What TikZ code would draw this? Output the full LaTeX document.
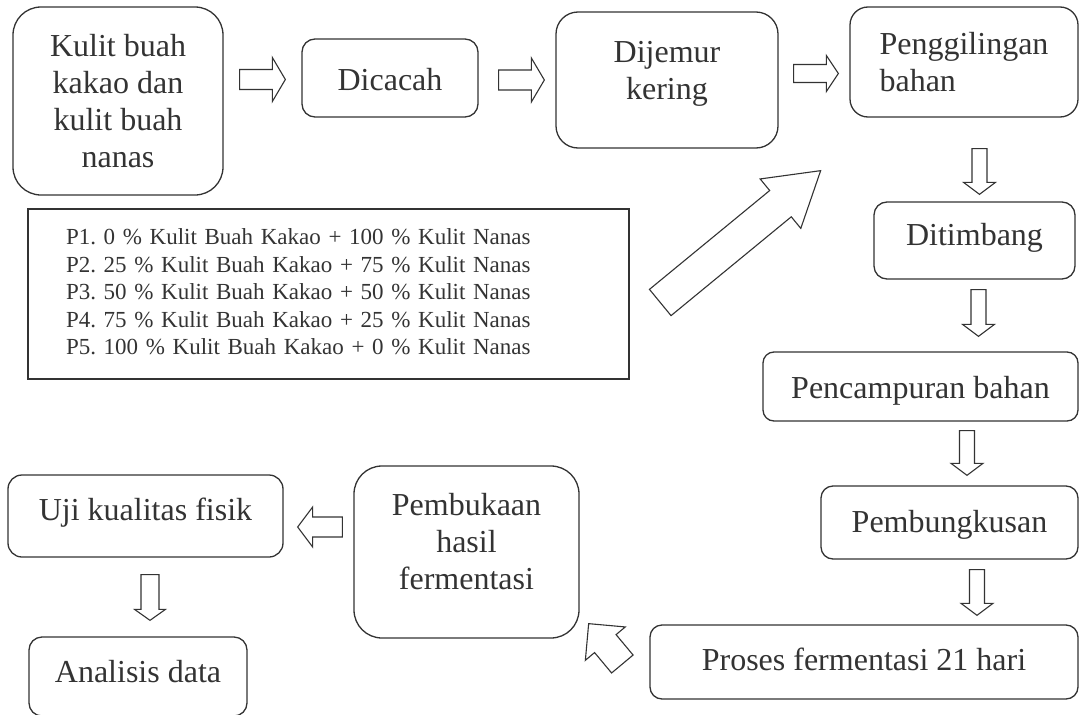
\documentclass[tikz,border=0pt]{standalone}
\usepackage{fontspec}
\setmainfont{Liberation Serif}
\usetikzlibrary{calc}

% hollow block arrow: tail, tip, shaft half width, head half width, head length
\newcommand{\blockarrow}[5]{%
  \draw[hollow] let \p1=#1, \p2=#2, \n1={atan2(\y2-\y1,\x2-\x1)} in
    ($(\p1)+(\n1+90:#3)$) -- ($(\p2)+(\n1:-#5)+(\n1+90:#3)$)
    -- ($(\p2)+(\n1:-#5)+(\n1+90:#4)$) -- (\p2)
    -- ($(\p2)+(\n1:-#5)+(\n1-90:#4)$) -- ($(\p2)+(\n1:-#5)+(\n1-90:#3)$)
    -- ($(\p1)+(\n1-90:#3)$) -- cycle;}

\tikzset{
  box/.style={draw=black!80, line width=1.3pt, text=black!80, align=center,
    font=\fontsize{32}{37}\selectfont, inner sep=0pt},
  tb/.style 2 args={text height=#1, text depth=#2},
  hollow/.style={draw=black!80, line width=1.1pt, fill=white, line join=miter},
}

\begin{document}
\frenchspacing
\begin{tikzpicture}[x=1pt, y=-1pt]
  \useasboundingbox (0,0) rectangle (1080,715);

  % Nodes for the process steps (rounded boxes)
  \node[box, minimum width=210pt, minimum height=188pt, rounded corners=28pt] (kulit) at (118,101) {Kulit buah\\kakao dan\\kulit buah\\nanas};
  \node[box, tb={28pt}{4pt}, minimum width=176pt, minimum height=78pt, rounded corners=13pt] (dicacah) at (390,78) {Dicacah};
  \node[box, tb={59pt}{21pt}, minimum width=222pt, minimum height=136pt, rounded corners=22pt] (dijemur) at (667,80) {Dijemur\\kering};
  \node[box, tb={59pt}{1pt}, align=left, minimum width=228pt, minimum height=110pt, rounded corners=18pt] (penggilingan) at (964,62) {Penggilingan\\bahan};
  \node[box, tb={28pt}{19pt}, minimum width=201pt, minimum height=77pt, rounded corners=13pt] (ditimbang) at (974.5,240.5) {Ditimbang};
  \node[box, tb={28pt}{5pt}, minimum width=315pt, minimum height=69pt, rounded corners=11pt] (pencampuran) at (920.5,386.5) {Pencampuran bahan};
  \node[box, tb={28pt}{9pt}, minimum width=257pt, minimum height=73pt, rounded corners=12pt] (pembungkusan) at (949.5,522.5) {Pembungkusan};
  \node[box, tb={28pt}{12pt}, minimum width=428pt, minimum height=74pt, rounded corners=12pt] (proses) at (864,662) {Proses fermentasi 21 hari};
  \node[box, tb={96pt}{22pt}, minimum width=225pt, minimum height=172pt, rounded corners=28pt] (pembukaan) at (466.5,552) {Pembukaan\\hasil\\fermentasi};
  \node[box, tb={28pt}{20pt}, minimum width=275pt, minimum height=82pt, rounded corners=14pt] (uji) at (145.5,516) {Uji kualitas fisik};
  \node[box, tb={28pt}{17pt}, minimum width=218pt, minimum height=79pt, rounded corners=13pt] (analisis) at (138,676.5) {Analisis data};

  % Node for the treatments (plain box)
  \node[draw=black!80, line width=1.5pt, text=black!80, inner sep=0pt, minimum width=601pt, minimum height=170pt,
        text width=525pt, align=left, font=\fontsize{23}{27.5}\selectfont, tb={17pt}{116pt}] (mix) at (328.5,294)
    {P1. 0 \% Kulit Buah Kakao + 100 \% Kulit Nanas\\
     P2. 25 \% Kulit Buah Kakao + 75 \% Kulit Nanas\\
     P3. 50 \% Kulit Buah Kakao + 50 \% Kulit Nanas\\
     P4. 75 \% Kulit Buah Kakao + 25 \% Kulit Nanas\\
     P5. 100 \% Kulit Buah Kakao + 0 \% Kulit Nanas};

  % Block arrows between the steps
  \blockarrow{($(kulit.east |- dicacah.west)+(16,1.5)$)}{($(dicacah.west)+(-16,1.5)$)}{10pt}{22pt}{13pt}
  \blockarrow{($(dicacah.east)+(20,2)$)}{($(dijemur.west |- dicacah.east)+(-11,2)$)}{10pt}{22pt}{13pt}
  \blockarrow{($(dijemur.east)+(15,-6.5)$)}{($(penggilingan.west |- dijemur.east)+(-11,-6.5)$)}{9pt}{18pt}{12pt}
  \blockarrow{($(penggilingan.south)+(15.5,31)$)}{($(ditimbang.north)+(5,-7)$)}{7.5pt}{16pt}{12pt}
  \blockarrow{($(ditimbang.south)+(4,10)$)}{($(pencampuran.north)+(58,-15)$)}{7.5pt}{16pt}{12pt}
  \blockarrow{($(pencampuran.south)+(46.5,9)$)}{($(pembungkusan.north)+(17.5,-10)$)}{7.5pt}{16pt}{12pt}
  \blockarrow{($(pembungkusan.south)+(27.5,10)$)}{($(proses.north)+(113,-9)$)}{7.5pt}{16pt}{12pt}
  \blockarrow{($(proses.west)+(-27,2)$)}{($(pembukaan.south east)+(9,-15)$)}{14pt}{26pt}{26pt}
  \blockarrow{($(pembukaan.west)+(-11,-25)$)}{($(uji.east)+(14,11)$)}{10pt}{20pt}{15pt}
  \blockarrow{($(uji.south)+(4.5,17)$)}{($(analisis.north)+(12,-16)$)}{9pt}{15.5pt}{11pt}

  % Large arrow from the treatments up to the processing row
  \blockarrow{($(mix.east)+(30.5,8.5)$)}{($(dijemur.south east)+(42,22)$)}{17pt}{32pt}{52pt}
\end{tikzpicture}
\end{document}
